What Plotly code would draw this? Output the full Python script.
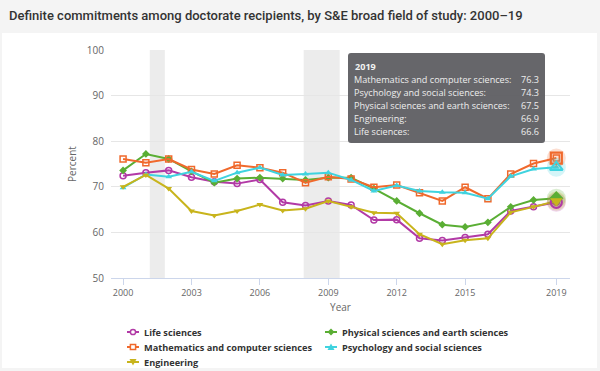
import plotly.graph_objects as go

years = list(range(2000, 2020))

life_sciences = [72.4, 73.1, 73.6, 72.1, 71.1, 70.7, 71.6, 66.6, 65.9, 66.9,
                 66.0, 62.7, 62.8, 58.7, 58.2, 58.9, 59.6, 64.7, 65.6, 66.6]
math_cs = [76.1, 75.3, 76.1, 73.8, 72.8, 74.7, 74.2, 73.1, 70.9, 72.2,
           71.7, 69.9, 70.4, 68.7, 66.9, 69.9, 67.4, 72.8, 75.1, 76.3]
physical_earth = [73.6, 77.2, 76.1, 73.4, 70.9, 71.8, 72.0, 71.8, 71.5, 72.0,
                  72.0, 69.6, 66.9, 64.2, 61.7, 61.2, 62.2, 65.6, 67.1, 67.5]
psych_social = [69.8, 72.7, 72.2, 73.3, 71.3, 73.1, 74.2, 72.6, 72.8, 73.1,
                71.5, 69.1, 70.3, 69.1, 68.8, 68.7, 67.4, 72.3, 73.9, 74.3]
engineering = [70.0, 72.6, 69.6, 64.7, 63.7, 64.7, 66.1, 64.8, 65.2, 66.9,
               65.6, 64.3, 64.2, 59.6, 57.4, 58.3, 58.7, 64.4, 65.6, 66.9]

x_tick_vals = [2000, 2003, 2006, 2009, 2012, 2015, 2019]
y_tick_vals = [50, 60, 70, 80, 90, 100]
recessions = [(2001.17, 2001.83), (2007.92, 2009.5)]

title_text = "Definite commitments among doctorate recipients, by S&E broad field of study: 2000\u201319"

# legend order (row-wise): Life, Physical, Math, Psych, Engineering
series = [
    ("Life sciences", life_sciences, "#b23aa6", "circle-open"),
    ("Physical sciences and earth sciences", physical_earth, "#5aae34", "diamond"),
    ("Mathematics and computer sciences", math_cs, "#f0692c", "square-open"),
    ("Psychology and social sciences", psych_social, "#3fd3df", "triangle-up"),
    ("Engineering", engineering, "#c8b41c", "triangle-down"),
]
tooltip_order = [2, 3, 1, 4, 0]

L, R, T, B = 111, 30, 50, 93
W, H = 600, 371
PW, PH = W - L - R, H - T - B


def px(x):
    return (x - L) / PW


def py(y):
    return 1 - (y - T) / PH


fig = go.Figure()

for name, vals, color, sym in series:
    fig.add_trace(go.Scatter(
        x=years, y=vals, name=name, mode="lines+markers", showlegend=False,
        line=dict(color=color, width=2),
        marker=dict(symbol=sym, size=6, color=color,
                    line=dict(color=color, width=1.5 if "open" in sym else 0)),
        hoverinfo="skip",
    ))

# hover highlight on last point
for name, vals, color, sym in series:
    fig.add_trace(go.Scatter(
        x=[years[-1]], y=[vals[-1]], mode="markers", showlegend=False,
        marker=dict(symbol="circle", size=19, color=color, opacity=0.22, line=dict(width=0)),
        hoverinfo="skip",
    ))
for name, vals, color, sym in series:
    hsym = "triangle-up-open" if sym == "triangle-up" else sym
    fig.add_trace(go.Scatter(
        x=[years[-1]], y=[vals[-1]], mode="markers", showlegend=False,
        marker=dict(symbol=hsym, size=11, color=color,
                    line=dict(color=color, width=2.2 if "open" in hsym else 0)),
        hoverinfo="skip",
    ))

shapes = [
    dict(type="rect", xref="paper", yref="paper", x0=px(2), x1=px(597), y0=py(368), y1=py(33),
         fillcolor="white", line=dict(width=0), layer="below"),
]
for a, b in recessions:
    shapes.append(dict(type="rect", xref="x", yref="paper", x0=a, x1=b, y0=0, y1=1,
                       fillcolor="#ececec", line=dict(width=0), layer="below"))

# tooltip box
tx0, tx1, ty0, ty1 = px(348), px(545), py(143), py(53)
rx, ry = 3 / PW, 3 / PH
path = (f"M {tx0+rx},{ty1} L {tx1-rx},{ty1} Q {tx1},{ty1} {tx1},{ty1-ry} "
        f"L {tx1},{ty0+ry} Q {tx1},{ty0} {tx1-rx},{ty0} L {tx0+rx},{ty0} "
        f"Q {tx0},{ty0} {tx0},{ty0+ry} L {tx0},{ty1-ry} Q {tx0},{ty1} {tx0+rx},{ty1} Z")
shapes.append(dict(type="path", xref="paper", yref="paper", path=path,
                   fillcolor="rgba(94,94,98,0.95)", line=dict(width=0), layer="above"))

annotations = [
    dict(text=title_text, xref="paper", yref="paper", x=px(7), y=py(15), xanchor="left",
         yanchor="middle", showarrow=False,
         font=dict(family="Roboto", size=13, color="#333333", weight=500)),
    dict(text="<b>2019</b>", xref="paper", yref="paper", x=px(353), y=py(66), xanchor="left",
         yanchor="middle", showarrow=False, font=dict(family="Open Sans", size=9.1, color="#f2f2f2")),
]
for i, idx in enumerate(tooltip_order):
    name, vals, color, sym = series[idx]
    yy = py(79.5 + i * 13.1)
    annotations.append(dict(text=name + ":", xref="paper", yref="paper", x=px(352), y=yy,
                            xanchor="left", yanchor="middle", showarrow=False,
                            font=dict(family="Open Sans", size=9.1, color="#eeeeee")))
    annotations.append(dict(text=f"{vals[-1]:.1f}", xref="paper", yref="paper", x=px(541), y=yy,
                            xanchor="right", yanchor="middle", showarrow=False,
                            font=dict(family="Open Sans", size=9.1, color="#eeeeee")))

# manual legend (two columns)
leg_cols = [127, 325]
leg_rows = [332, 347, 362]
for i, (name, vals, color, sym) in enumerate(series):
    cx0 = leg_cols[i % 2]
    cy = leg_rows[i // 2]
    mid = cx0 + 6
    shapes.append(dict(type="line", xref="paper", yref="paper", x0=px(cx0), x1=px(cx0 + 12),
                       y0=py(cy), y1=py(cy), line=dict(color=color, width=2), layer="above"))
    r = 2.6
    if sym == "circle-open":
        shapes.append(dict(type="circle", xref="paper", yref="paper", x0=px(mid - r), x1=px(mid + r),
                           y0=py(cy + r), y1=py(cy - r), fillcolor="white",
                           line=dict(color=color, width=1.5), layer="above"))
    elif sym == "square-open":
        shapes.append(dict(type="rect", xref="paper", yref="paper", x0=px(mid - r), x1=px(mid + r),
                           y0=py(cy + r), y1=py(cy - r), fillcolor="white",
                           line=dict(color=color, width=1.5), layer="above"))
    elif sym == "diamond":
        p = (f"M {px(mid)},{py(cy - 3.5)} L {px(mid + 3.5)},{py(cy)} L {px(mid)},{py(cy + 3.5)} "
             f"L {px(mid - 3.5)},{py(cy)} Z")
        shapes.append(dict(type="path", xref="paper", yref="paper", path=p, fillcolor=color,
                           line=dict(width=0), layer="above"))
    elif sym == "triangle-up":
        p = (f"M {px(mid)},{py(cy - 3.5)} L {px(mid + 3.5)},{py(cy + 3)} L {px(mid - 3.5)},{py(cy + 3)} Z")
        shapes.append(dict(type="path", xref="paper", yref="paper", path=p, fillcolor=color,
                           line=dict(width=0), layer="above"))
    else:
        p = (f"M {px(mid)},{py(cy + 3.5)} L {px(mid + 3.5)},{py(cy - 3)} L {px(mid - 3.5)},{py(cy - 3)} Z")
        shapes.append(dict(type="path", xref="paper", yref="paper", path=p, fillcolor=color,
                           line=dict(width=0), layer="above"))
    annotations.append(dict(text=f"<b>{name}</b>", xref="paper", yref="paper", x=px(cx0 + 15),
                            y=py(cy), xanchor="left", yanchor="middle", showarrow=False,
                            font=dict(family="Open Sans", size=9.2, color="#333333")))

fig.update_layout(
    width=W, height=H,
    margin=dict(l=L, r=R, t=T, b=B, autoexpand=False),
    paper_bgcolor="#f4f4f4",
    plot_bgcolor="rgba(0,0,0,0)",
    shapes=shapes,
    annotations=annotations,
    showlegend=False,
    hovermode=False,
    xaxis=dict(range=[1999.47, 2019.6], tickvals=x_tick_vals, showgrid=False, zeroline=False,
               showline=True, linecolor="#ccd6eb", linewidth=1, ticks="outside", ticklen=6,
               tickcolor="#ccd6eb", tickfont=dict(family="Open Sans", size=9, color="#666666"),
               title=dict(text="Year", font=dict(family="Open Sans", size=10, color="#666666"),
                          standoff=6)),
    yaxis=dict(range=[50, 100], tickvals=y_tick_vals, showgrid=True, gridcolor="#e6e6e6",
               gridwidth=1, zeroline=False, showline=False, ticks="",
               tickfont=dict(family="Open Sans", size=10, color="#666666"), ticklabelstandoff=6,
               title=dict(text="Percent", font=dict(family="Open Sans", size=10, color="#666666"),
                          standoff=8)),
)

fig.write_html("out.html", config={"displayModeBar": False},
               post_script="document.body.style.margin='0';")
